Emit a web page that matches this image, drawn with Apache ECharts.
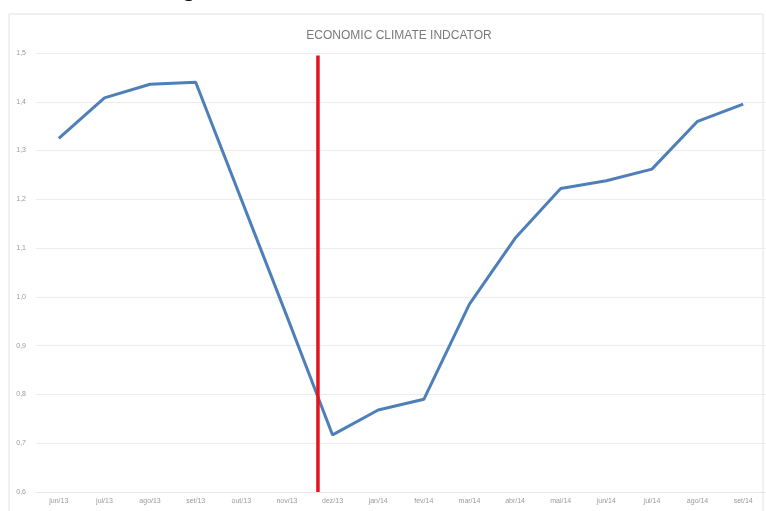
<!DOCTYPE html>
<html>
<head>
<meta charset="utf-8">
<script src="https://cdn.jsdelivr.net/npm/echarts@6/dist/echarts.min.js"></script>
<style>
html,body{margin:0;padding:0;background:#fff;}
#chart{width:766px;height:511px;}
</style>
</head>
<body>
<div id="chart"></div>
<script>
var titleText = 'ECONOMIC CLIMATE INDCATOR';
var categories = ['jun/13','jul/13','ago/13','set/13','out/13','nov/13','dez/13','jan/14','fev/14','mar/14','abr/14','mai/14','jun/14','jul/14','ago/14','set/14'];
var indicator = [1.325,1.408,1.436,1.44,1.20,0.96,0.717,0.768,0.79,0.985,1.12,1.222,1.238,1.262,1.36,1.395];
var markerX = [5.68, 5.68];
var markerY = [0.6, 1.495];

var chart = echarts.init(document.getElementById('chart'));
chart.setOption({
  animation: false,
  backgroundColor: '#ffffff',
  title: {
    text: titleText,
    left: 394, top: 25, textAlign: 'center',
    textStyle: {fontFamily: 'Liberation Sans Narrow, Liberation Sans', fontSize: 12, fontWeight: 'normal', color: '#7a7a7a'}
  },
  graphic: [
    {type: 'rect', shape: {x: 9, y: 14, width: 754, height: 510}, style: {fill: 'none', stroke: '#e2e2e2', lineWidth: 1}, silent: true},
    {type: 'text', left: 181, top: -27, style: {text: 'g', fontSize: 28, fontFamily: 'Liberation Sans', fill: '#000'}}
  ],
  grid: {left: 36, right: 0, top: 53, bottom: 19},
  xAxis: [
    {
      type: 'category', data: categories, boundaryGap: true,
      axisLine: {show: true, lineStyle: {color: '#e6e6e6'}},
      axisTick: {show: false},
      axisLabel: {color: '#9a9a9a', fontSize: 7, margin: 6, interval: 0, fontFamily: 'Liberation Sans'},
      splitLine: {show: false}
    },
    {
      type: 'value', min: -0.5, max: 15.5, show: false
    }
  ],
  yAxis: {
    type: 'value', min: 0.6, max: 1.5, interval: 0.1,
    axisLine: {show: false}, axisTick: {show: false},
    axisLabel: {color: '#9a9a9a', fontSize: 7, margin: 10, fontFamily: 'Liberation Sans',
      formatter: function (v) { return v.toFixed(1).replace('.', ','); }},
    splitLine: {lineStyle: {color: '#ececec', width: 1}}
  },
  series: [
    {
      type: 'line', data: indicator, xAxisIndex: 0,
      symbol: 'none',
      lineStyle: {color: '#4f7fb8', width: 3},
      z: 2
    },
    {
      type: 'line', xAxisIndex: 1,
      data: markerX.map(function (x, i) { return [x, markerY[i]]; }),
      symbol: 'none',
      lineStyle: {color: '#e3141c', width: 3.5},
      z: 3
    }
  ]
});
</script>
</body>
</html>
